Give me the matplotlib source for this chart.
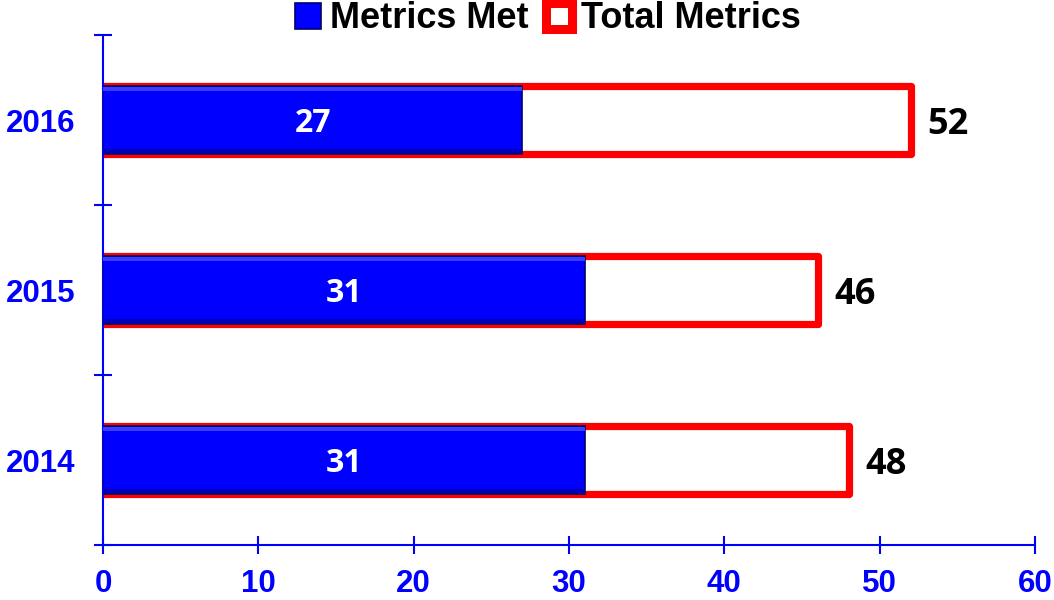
import matplotlib
matplotlib.use("Agg")
import matplotlib.pyplot as plt
from matplotlib.patches import Patch

years = ["2014", "2015", "2016"]
metrics_met = [31, 31, 27]
total_metrics = [48, 46, 52]
x_ticks = [0, 10, 20, 30, 40, 50, 60]

plt.rcParams['font.family'] = ['Liberation Sans', 'DejaVu Sans']

fig = plt.figure(figsize=(10.54, 6.0), dpi=100)
ax = fig.add_axes([103/1054, 1 - 545/600, (1035 - 103)/1054, (545 - 35)/600])

pos = list(range(len(years)))
h = 0.40

# Total bars: white fill, thick red outline
ax.barh(pos, total_metrics, height=h, color='white', edgecolor='#FF0000',
        linewidth=5.2, joinstyle='round', zorder=2)

# Metrics met bars: blue with bevel-like strips
ax.barh(pos, metrics_met, height=h, color='#0000FF', edgecolor='#00006A',
        linewidth=1.2, zorder=3)
strip = 0.022
ax.barh([p + h/2 - strip/2 - 0.006 for p in pos], metrics_met, height=strip,
        color='#3C3CFF', linewidth=0, zorder=4)
ax.barh([p - h/2 + strip/2 + 0.006 for p in pos], metrics_met, height=strip,
        color='#0000B8', linewidth=0, zorder=4)

for p, m, t in zip(pos, metrics_met, total_metrics):
    ax.text(m / 2, p, str(m), ha='center', va='center_baseline', color='white',
            fontsize=23, fontweight='bold', family=['Open Sans', 'DejaVu Sans'], zorder=5)
    ax.annotate(str(t), xy=(t, p), xytext=(12, 0), textcoords='offset points',
                ha='left', va='center_baseline', color='black', fontsize=26,
                fontweight='bold', family=['Open Sans', 'DejaVu Sans'])

ax.set_xlim(0, 60)
ax.set_ylim(-0.5, len(years) - 0.5)

ax.set_xticks(x_ticks)
ax.set_xticklabels([str(v) for v in x_ticks])
ax.set_yticks([p - 0.5 for p in pos] + [len(years) - 0.5])
ax.set_yticklabels([])
ax.set_yticks(pos, minor=True)
ax.set_yticklabels(years, minor=True)

for s in ['top', 'right']:
    ax.spines[s].set_visible(False)
for s in ['left', 'bottom']:
    ax.spines[s].set_color('#0000FF')
    ax.spines[s].set_linewidth(1.5)

ax.tick_params(axis='x', which='major', direction='inout', length=13, width=1.5,
               color='#0000FF', labelcolor='#0000FF', labelsize=22.5, pad=11)
ax.tick_params(axis='y', which='major', direction='inout', length=13, width=1.5,
               color='#0000FF')
ax.tick_params(axis='y', which='minor', length=0, labelcolor='#0000FF',
               labelsize=22.5, pad=20)
for lab in ax.get_xticklabels() + ax.get_yticklabels(minor=True):
    lab.set_fontweight('bold')

handles = [Patch(facecolor='#0000FF', edgecolor='#00006A', linewidth=1.2, label='Metrics Met'),
           Patch(facecolor='white', edgecolor='#FF0000', linewidth=6.5, joinstyle='round',
                 label='Total Metrics')]
leg = fig.legend(handles=handles, loc='center', bbox_to_anchor=(548/1054, 1 - 19/600),
                 ncol=2, frameon=False, handlelength=0.7, handleheight=0.7,
                 handletextpad=0.25, columnspacing=0.5,
                 prop={'family': ['Liberation Sans'], 'weight': 'bold', 'size': 26})

fig.savefig('out.png', dpi=100)
